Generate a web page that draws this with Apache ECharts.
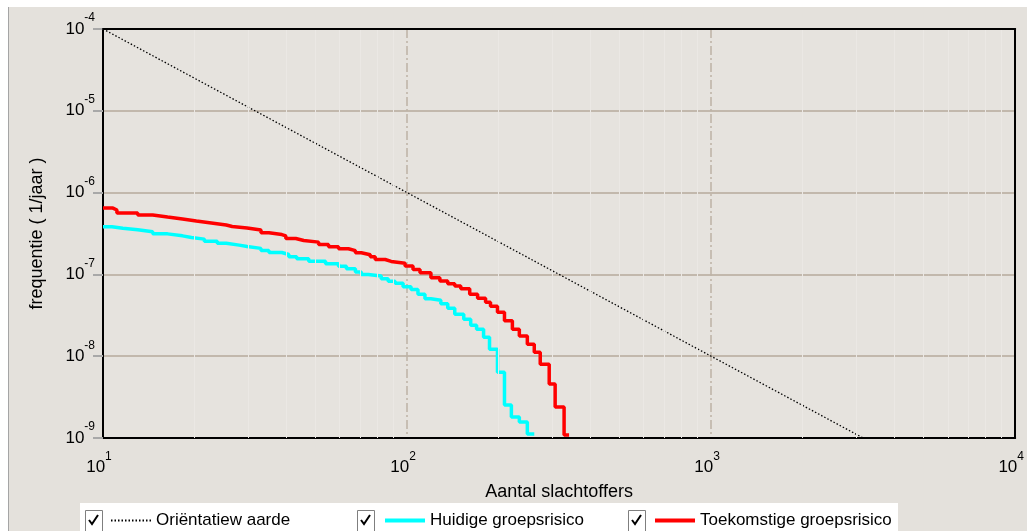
<!DOCTYPE html>
<html><head><meta charset="utf-8">
<script src="https://cdn.jsdelivr.net/npm/echarts@6/dist/echarts.min.js"></script>
<style>html,body{margin:0;padding:0;background:#fff}#c{width:1027px;height:531px}</style>
</head><body><div id="c"></div>
<script>
// ---- data ----
const seriesNames = ['Oriëntatiew aarde', 'Huidige groepsrisico', 'Toekomstige groepsrisico'];

const orientatieN = [10, 100, 1000, 3162.3];
const orientatieF = [1e-4, 1e-6, 1e-8, 1e-9];

const huidigeN = [10, 10.70, 11.62, 13.01, 14.57, 16.31, 18.26, 19.54, 21.54, 23.76, 25.43, 28.04, 29.78, 33.08, 35.14, 38.74, 40.84, 43.37, 47.49, 53.95, 59.51, 63.19, 67.63, 70.72, 74.54, 82.22, 86.67, 91.35, 97.03, 103.06, 108.6, 114.5, 119.8, 129.1, 136.1, 143.5, 153.6, 161.9, 169.3, 178.5, 186.7, 198.3, 209.1, 220.3, 234.0, 248.6, 262.0];
const huidigeF = [3.82e-7, 3.67e-7, 3.51e-7, 3.32e-7, 3.13e-7, 2.96e-7, 2.83e-7, 2.70e-7, 2.55e-7, 2.41e-7, 2.28e-7, 2.19e-7, 2.08e-7, 1.96e-7, 1.85e-7, 1.75e-7, 1.64e-7, 1.55e-7, 1.45e-7, 1.35e-7, 1.26e-7, 1.17e-7, 1.07e-7, 1.00e-7, 9.54e-8, 8.86e-8, 8.22e-8, 7.77e-8, 7.08e-8, 6.56e-8, 5.70e-8, 5.05e-8, 4.82e-8, 4.39e-8, 3.85e-8, 3.25e-8, 2.83e-8, 2.39e-8, 2.13e-8, 1.70e-8, 1.22e-8, 6.38e-9, 2.53e-9, 1.80e-9, 1.57e-9, 1.12e-9, 1.12e-9];

const toekomstN = [10, 10.78, 11.11, 13.01, 14.57, 16.31, 18.26, 20.28, 22.71, 25.43, 26.60, 29.78, 33.08, 35.14, 38.74, 39.93, 43.05, 45.73, 51.19, 55.18, 59.51, 64.15, 67.63, 70.72, 75.69, 78.58, 84.73, 88.65, 98.51, 104.6, 110.3, 119.8, 128.2, 136.1, 143.5, 150.2, 160.7, 170.6, 181.2, 188.1, 198.3, 209.1, 222.0, 234.0, 248.6, 262.0, 274.1, 293.4, 306.9, 328.4, 341.0];
const toekomstF = [6.47e-7, 6.12e-7, 5.62e-7, 5.31e-7, 5.02e-7, 4.75e-7, 4.49e-7, 4.25e-7, 4.02e-7, 3.85e-7, 3.69e-7, 3.49e-7, 3.22e-7, 3.07e-7, 2.95e-7, 2.75e-7, 2.60e-7, 2.48e-7, 2.32e-7, 2.18e-7, 2.06e-7, 1.95e-7, 1.84e-7, 1.74e-7, 1.64e-7, 1.52e-7, 1.44e-7, 1.37e-7, 1.27e-7, 1.15e-7, 1.05e-7, 9.12e-8, 8.29e-8, 7.70e-8, 7.20e-8, 6.69e-8, 5.70e-8, 5.10e-8, 4.56e-8, 4.07e-8, 3.44e-8, 2.71e-8, 2.13e-8, 1.77e-8, 1.40e-8, 1.12e-8, 7.99e-9, 4.56e-9, 2.39e-9, 1.09e-9, 1.09e-9];

const xMin = 10, xMax = 10000;
const yMin = 1e-9, yMax = 1e-4;

// ---- helpers ----
const zip = (a, b) => a.map((v, i) => [v, b[i]]);
const FONT = 'Liberation Sans';
const expLabel = v => '{b|10}{s|' + Math.round(Math.log10(v)) + '}';
const rich = {
  b: {fontSize: 17, fontFamily: FONT, color: '#000', lineHeight: 17},
  s: {fontSize: 12, fontFamily: FONT, color: '#000', lineHeight: 12, padding: [0, 0, 22, 0]}
};

// minor grid (2..9 in each decade)
const minorLines = [];
for (let d = xMin; d < xMax; d *= 10) for (let k = 2; k <= 9; k++) minorLines.push({xAxis: d * k});
for (let d = yMin; d < yMax * 0.99; d *= 10) for (let k = 2; k <= 9; k++) minorLines.push({yAxis: d * k});

function checkbox(x) {
  return {
    type: 'group', x: x, y: 510, z: 10,
    children: [
      {type: 'rect', shape: {x: 0.5, y: 0.5, width: 17, height: 24}, style: {fill: '#fff', stroke: '#7f7f7f', lineWidth: 1}},
      {type: 'polyline', shape: {points: [[4, 10], [7, 14], [13, 5]]}, style: {stroke: '#000', lineWidth: 2, fill: null}}
    ]
  };
}

const legendBase = {
  top: 512, itemWidth: 40, itemHeight: 14, padding: 0, selectedMode: false,
  itemStyle: {opacity: 0},
  textStyle: {fontSize: 17, color: '#000', fontFamily: FONT}
};

const frameAxis = {
  show: true, silent: true, z: 5,
  axisLine: {show: true, onZero: false, lineStyle: {color: '#000', width: 2}},
  axisTick: {show: false}, axisLabel: {show: false}, splitLine: {show: false}
};

const chart = echarts.init(document.getElementById('c'), null, {renderer: 'canvas'});
chart.setOption({
  animation: false,
  backgroundColor: '#e4e1dc',
  textStyle: {fontFamily: FONT},
  grid: {left: 103, top: 29, right: 6, bottom: 93, show: true, backgroundColor: '#e6e3de', borderWidth: 0, containLabel: false},
  graphic: [
    {type: 'rect', z: 0, shape: {x: 0, y: 0, width: 1027, height: 7}, style: {fill: '#fff'}},
    {type: 'rect', z: 0, shape: {x: 0, y: 0, width: 8, height: 531}, style: {fill: '#fff'}},
    {type: 'line', z: 0, shape: {x1: 8.5, y1: 7, x2: 8.5, y2: 531}, style: {stroke: '#a5a5a5', lineWidth: 1}},
    {type: 'rect', z: 0, shape: {x: 80, y: 503, width: 818, height: 28}, style: {fill: '#fff'}},
    checkbox(85), checkbox(357), checkbox(628)
  ],
  legend: [
    Object.assign({}, legendBase, {data: [seriesNames[0]], left: 110}),
    Object.assign({}, legendBase, {data: [seriesNames[1]], left: 383, lineStyle: {width: 4}}),
    Object.assign({}, legendBase, {data: [seriesNames[2]], left: 653, lineStyle: {width: 4}})
  ],
  xAxis: [{
    type: 'log', logBase: 10, min: xMin, max: xMax, splitNumber: 3,
    name: 'Aantal slachtoffers', nameLocation: 'middle', nameGap: 45, nameMoveOverlap: false,
    nameTextStyle: {fontSize: 18, color: '#000', fontFamily: FONT},
    axisLine: {show: true, onZero: false, lineStyle: {color: '#000', width: 2}},
    axisTick: {show: false},
    axisLabel: {margin: 21, formatter: expLabel, rich: rich, padding: [0, 8, 0, 0], showMaxLabel: true, showMinLabel: true},
    splitLine: {show: true, lineStyle: {color: '#bdb2a5', width: 1.5, type: [9, 3, 2, 3]}}
  }, Object.assign({type: 'log', logBase: 10, min: xMin, max: xMax, position: 'top'}, frameAxis)],
  yAxis: [{
    type: 'log', logBase: 10, min: yMin, max: yMax, splitNumber: 5,
    name: 'frequentie ( 1/jaar )', nameLocation: 'middle', nameGap: 57, nameRotate: 90, nameMoveOverlap: false,
    nameTextStyle: {fontSize: 18, color: '#000', fontFamily: FONT},
    axisLine: {show: true, onZero: false, lineStyle: {color: '#000', width: 2}},
    axisTick: {show: true, length: 10, lineStyle: {color: '#a8a8a8', width: 2}},
    axisLabel: {margin: 8, formatter: expLabel, rich: rich},
    splitLine: {show: true, lineStyle: {color: '#c2b8ac', width: 2}}
  }, Object.assign({type: 'log', logBase: 10, min: yMin, max: yMax, position: 'right'}, frameAxis)],
  series: [
    {
      type: 'line', name: '_minor', data: [], silent: true, z: 1,
      markLine: {silent: true, symbol: ['none', 'none'], label: {show: false}, animation: false,
        lineStyle: {color: '#ebe8e4', width: 1, type: 'solid'}, data: minorLines}
    },
    {
      type: 'line', name: seriesNames[0], data: zip(orientatieN, orientatieF), symbol: 'none', z: 3,
      lineStyle: {color: '#000', width: 1.3, type: [1.5, 2]}, itemStyle: {color: '#000'}
    },
    {
      type: 'line', name: seriesNames[1], data: zip(huidigeN, huidigeF), symbol: 'none', step: 'end', z: 4,
      lineStyle: {color: '#00ffff', width: 3.5}, itemStyle: {color: '#00ffff'}
    },
    {
      type: 'line', name: seriesNames[2], data: zip(toekomstN, toekomstF), symbol: 'none', step: 'end', z: 5,
      lineStyle: {color: '#ff0000', width: 3.5}, itemStyle: {color: '#ff0000'}
    }
  ]
});
</script>
</body></html>
